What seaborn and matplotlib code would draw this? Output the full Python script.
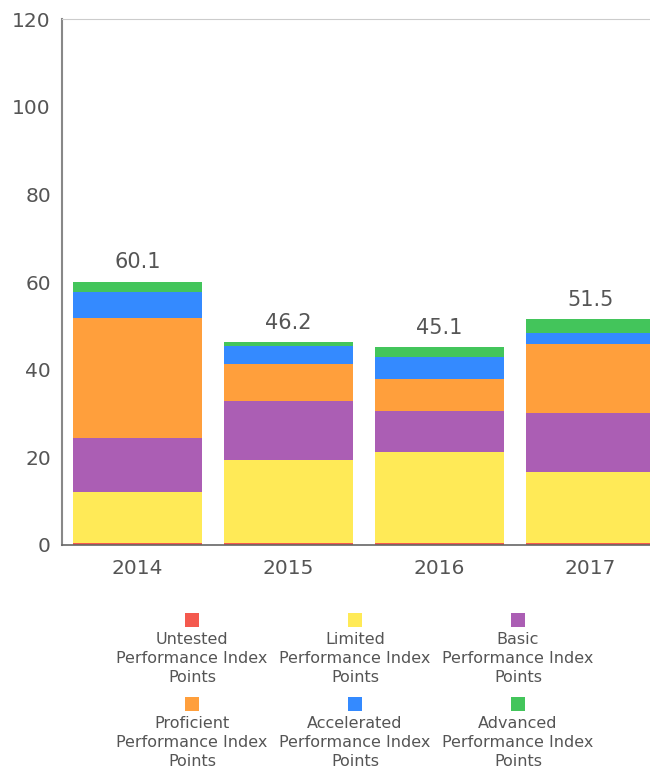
import numpy as np
import pandas as pd
import matplotlib.pyplot as plt
import seaborn as sns
from matplotlib.patches import Rectangle

# values
years = ['2014', '2015', '2016', '2017']
levels = ['Untested', 'Limited', 'Basic', 'Proficient', 'Accelerated', 'Advanced']
untested = [0.4, 0.4, 0.4, 0.4]
limited = [11.7, 19.0, 20.8, 16.3]
basic = [12.3, 13.4, 9.3, 13.5]
proficient = [27.5, 8.5, 7.3, 15.6]
accelerated = [5.8, 4.1, 5.1, 2.5]
advanced = [2.4, 0.8, 2.2, 3.2]
totals = [60.1, 46.2, 45.1, 51.5]

colors = ['#F4594E', '#FFEA57', '#AB5EB4', '#FF9F3C', '#348AFF', '#43C55B']

# long table + cumulative heights
df = pd.DataFrame({'year': np.repeat(years, len(levels)),
                   'level': levels * len(years),
                   'value': np.array([untested, limited, basic, proficient,
                                      accelerated, advanced]).T.ravel()})
df['cum'] = df.groupby('year')['value'].cumsum()

sns.set_style('white')
plt.rcParams['font.family'] = ['DejaVu Sans']
text_col = '#555555'

fig = plt.figure(figsize=(6.5, 7.73), dpi=100)
ax = fig.add_axes([62 / 650, 228 / 773, 604 / 650, 526 / 773])

# draw stacked bars from top layer down
for lev, col in reversed(list(zip(levels, colors))):
    sub = df[df['level'] == lev]
    sns.barplot(data=sub, x='year', y='cum', order=years, color=col,
                saturation=1, width=0.855, errorbar=None, linewidth=0, ax=ax)

for i, t in enumerate(totals):
    ax.annotate(f'{t:.1f}', (i, t), xytext=(0, 7), textcoords='offset points',
                ha='center', va='bottom', fontsize=15, color=text_col)

ax.set_ylim(0, 120)
ax.set_xlim(-0.5, 3.5)
ax.set_yticks(range(0, 121, 20))
ax.set_xlabel('')
ax.set_ylabel('')
ax.tick_params(axis='y', length=0, labelsize=14.5, labelcolor=text_col, pad=8)
ax.tick_params(axis='x', which='major', length=0, labelsize=14.5,
               labelcolor=text_col, pad=10)
ax.set_xticks([0.5, 1.5, 2.5], minor=True)
ax.tick_params(axis='x', which='minor', length=7, width=1.2, color='#555555')

ax.spines['top'].set_color('#cccccc')
ax.spines['right'].set_visible(False)
ax.spines['left'].set_color('#888888')
ax.spines['left'].set_linewidth(1.5)
ax.spines['bottom'].set_color('#666666')
ax.spines['bottom'].set_linewidth(1.2)

# legend: square above a three-line label
W, H = 650, 773
col_x = [192, 355, 518]
row_y = [620, 704]
for k, (lev, col) in enumerate(zip(levels, colors)):
    cx = col_x[k % 3]
    cy = row_y[k // 3]
    s = 14
    fig.add_artist(Rectangle(((cx - s / 2) / W, 1 - (cy + s / 2) / H), s / W, s / H,
                             transform=fig.transFigure, facecolor=col,
                             edgecolor='none'))
    fig.text(cx / W, 1 - (cy + 12) / H, f'{lev}\nPerformance Index\nPoints',
             ha='center', va='top', fontsize=11.5, color=text_col,
             linespacing=1.34)

plt.savefig('out.png', dpi=100)
plt.close()
